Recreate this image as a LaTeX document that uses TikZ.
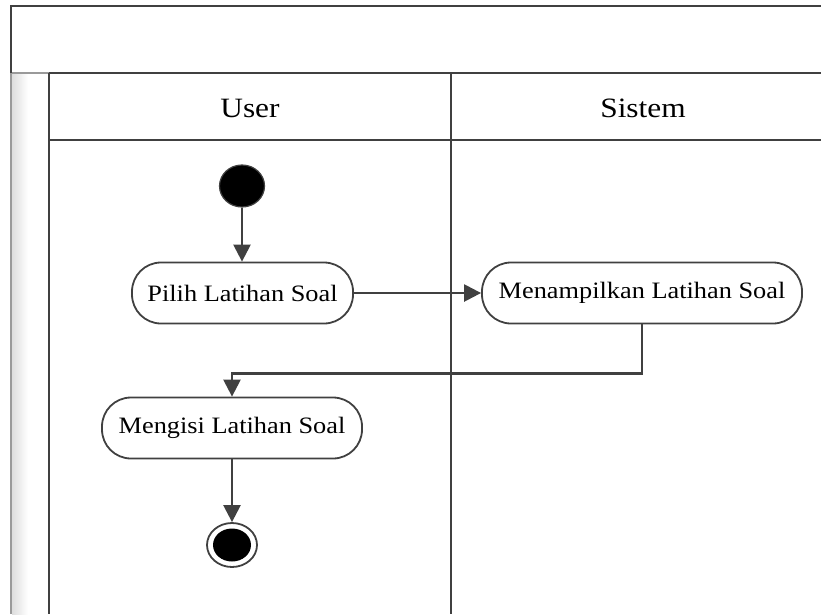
\documentclass[tikz,border=0pt]{standalone}
\usepackage{fontspec}
\setmainfont{Liberation Serif}
\newfontfamily\diagfont[FakeStretch=1.12]{Liberation Serif}
\usetikzlibrary{arrows.meta,shapes.geometric}
\definecolor{linegray}{HTML}{404040}
\definecolor{stripgray}{HTML}{9A9A9A}
\begin{document}
\begin{tikzpicture}[x=1pt,y=-1pt,
  lane/.style={draw=linegray, line width=2.4pt},
  strip/.style={draw=stripgray, line width=2.4pt},
  action/.style={draw=linegray, line width=1.8pt, rounded corners=29pt,
    fill=white, minimum height=61pt, inner sep=0pt,
    font=\diagfont\fontsize{23.5}{23.5}\selectfont},
  header/.style={font=\diagfont\fontsize{28}{28}\selectfont, inner sep=0pt},
  flow/.style={draw=linegray, line width=2.4pt,
    -{Triangle[length=17pt,width=17pt,fill=linegray]}},
]
\useasboundingbox (0,0) rectangle (821,614);

% pool frame and swimlanes
\shade[left color=black!13, right color=white] (12,74) rectangle (28,614);
\draw[strip] (11,73) -- (49,73);
\draw[strip] (11,73) -- (11,614);
\draw[lane] (11,73) -- (11,6) -- (821,6);
\draw[lane] (49,73) -- (821,73);
\draw[lane] (49,140) -- (821,140);
\draw[lane] (49,73) -- (49,614);
\draw[lane] (451,73) -- (451,614);

% lane headers
\node[header] (huser) at (250,108) {User};
\node[header] (hsistem) at (643,108) {Sistem};

% activity nodes
\node[ellipse, draw=linegray, line width=1.2pt, fill=black,
  minimum width=45pt, minimum height=42pt, inner sep=0pt] (start) at (242,186) {};
\node[action, minimum width=221pt] (pilih) at (242.5,293) {Pilih Latihan Soal};
\node[action, minimum width=320pt] (tampil) at (642,293) {Menampilkan Latihan Soal};
\node[action, minimum width=260pt] (isi) at (232,428) {Mengisi Latihan Soal};
\node[ellipse, draw=linegray, line width=1.8pt, fill=white,
  minimum width=50pt, minimum height=44pt, inner sep=0pt] (final) at (232,545) {};
\node[ellipse, fill=black, minimum width=38pt, minimum height=33pt,
  inner sep=0pt] (finaldot) at (final) {};

% control flow
\draw[flow] (start) -- (start |- pilih.north);
\draw[flow] (pilih) -- (tampil);
\draw[flow] (tampil.south) -- ++(0,49) -| (isi.north);
\draw[flow] (isi) -- (final);
\end{tikzpicture}
\end{document}
